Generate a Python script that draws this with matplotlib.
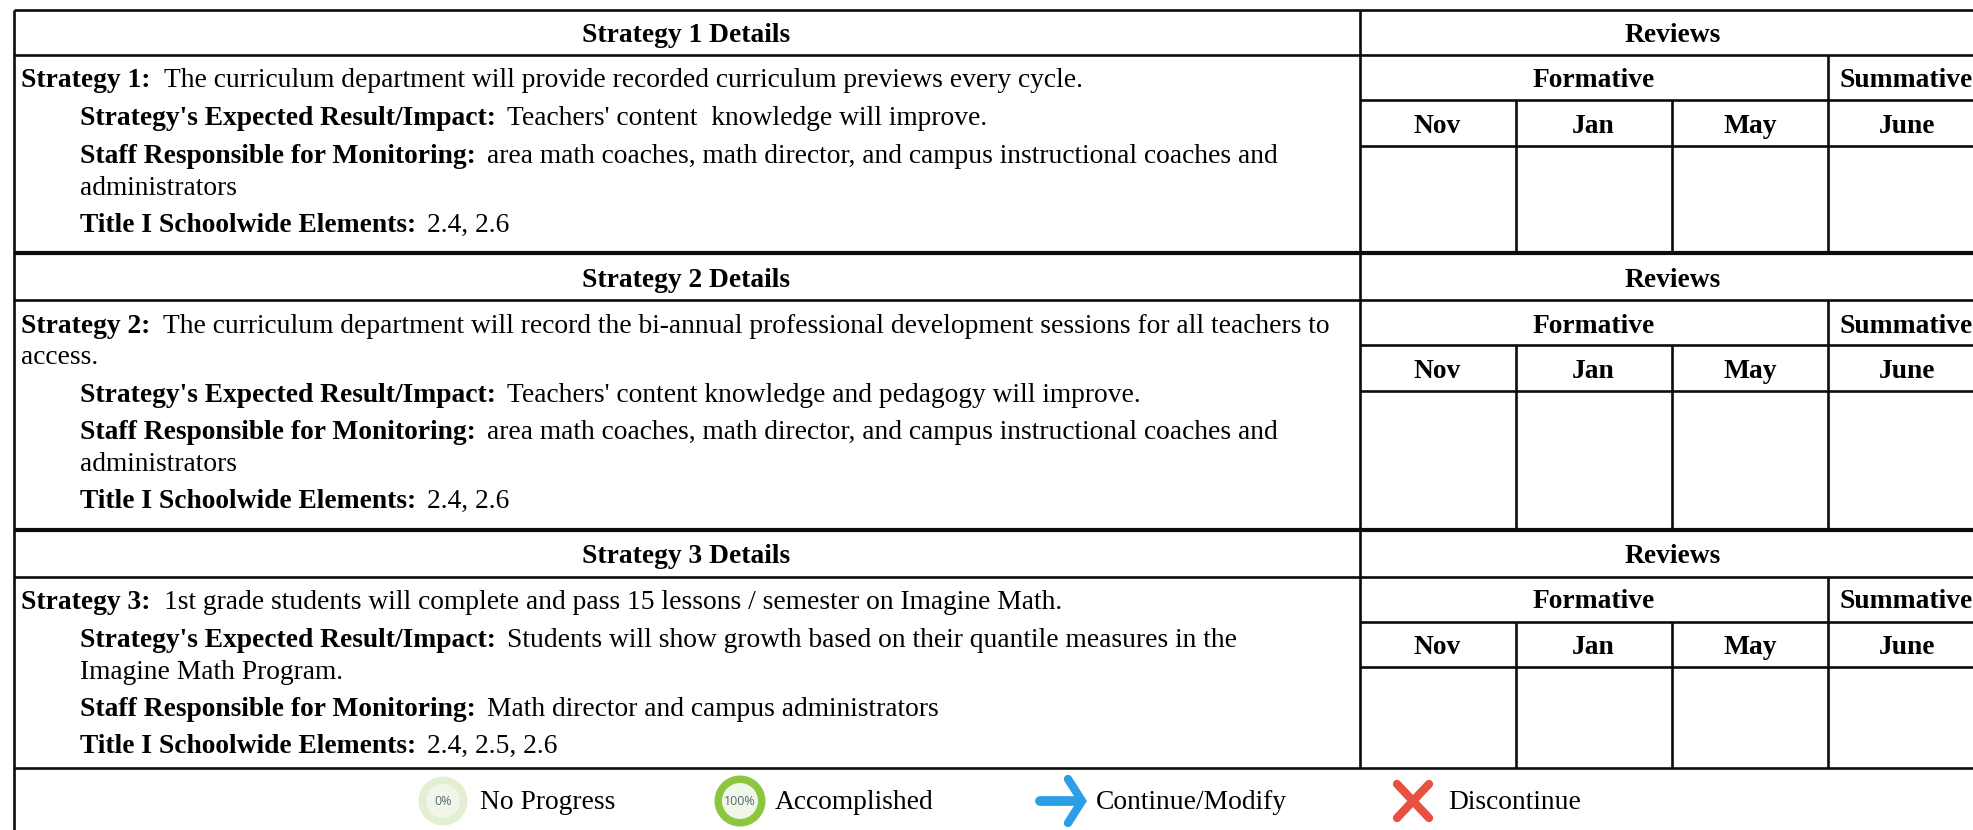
import matplotlib
matplotlib.use("Agg")
import matplotlib.pyplot as plt
from matplotlib.patches import Circle

plt.rcParams['font.family'] = ['Liberation Serif', 'DejaVu Sans']

# text of the table
detail_titles = ["Strategy 1 Details", "Strategy 2 Details", "Strategy 3 Details"]
reviews_title = "Reviews"
formative_title = "Formative"
summative_title = "Summative"
months = ["Nov", "Jan", "May", "June"]

strategy_1_lines = [
    ("Strategy 1:", "The curriculum department will provide recorded curriculum previews every cycle."),
    ("Strategy's Expected Result/Impact:", "Teachers' content  knowledge will improve."),
    ("Staff Responsible for Monitoring:", "area math coaches, math director, and campus instructional coaches and"),
    ("", "administrators"),
    ("Title I Schoolwide Elements:", "2.4, 2.6"),
]
strategy_2_lines = [
    ("Strategy 2:", "The curriculum department will record the bi-annual professional development sessions for all teachers to"),
    ("", "access."),
    ("Strategy's Expected Result/Impact:", "Teachers' content knowledge and pedagogy will improve."),
    ("Staff Responsible for Monitoring:", "area math coaches, math director, and campus instructional coaches and"),
    ("", "administrators"),
    ("Title I Schoolwide Elements:", "2.4, 2.6"),
]
strategy_3_lines = [
    ("Strategy 3:", "1st grade students will complete and pass 15 lessons / semester on Imagine Math."),
    ("Strategy's Expected Result/Impact:", "Students will show growth based on their quantile measures in the"),
    ("", "Imagine Math Program."),
    ("Staff Responsible for Monitoring:", "Math director and campus administrators"),
    ("Title I Schoolwide Elements:", "2.4, 2.5, 2.6"),
]
legend_labels = ["No Progress", "Accomplished", "Continue/Modify", "Discontinue"]
legend_percents = ["0%", "100%"]

# layout, in pixels of the picture
W, H = 1974, 830
LEFT, SPLIT, RIGHT = 14, 1360, W
COL_NOV_JAN, COL_JAN_MAY, COL_MAY_JUNE = 1516, 1672, 1828
month_x = [1437, 1593.5, 1750, 1907]
block_tops = [10, 253.5, 530]
block_rows = [(55, 100, 146, 253.5), (300, 345, 391, 530), (577, 622, 667, 768)]
head_base = [(42, 87, 133), (287, 333, 378), (563, 608, 654)]
line_base = [
    [87, 125, 163, 195, 232],
    [333, 364, 402, 439, 471, 508],
    [609, 647, 679, 716, 753],
]
line_x = [
    [21, 80, 80, 80, 80],
    [21, 21, 80, 80, 80, 80],
    [21, 80, 80, 80, 80],
]
BODY = 19.85
LW = 1.9
LW_THICK = 3.0
INK = "#0c0c0c"

fig = plt.figure(figsize=(W / 100, H / 100), dpi=100)
ax = fig.add_axes([0, 0, 1, 1])
ax.set_xlim(0, W)
ax.set_ylim(H, 0)
ax.axis('off')


def hline(y, x0=LEFT, x1=RIGHT, lw=LW):
    ax.plot([x0, x1], [y, y], color=INK, lw=lw, solid_capstyle='butt')


def vline(x, y0, y1, lw=LW):
    ax.plot([x, x], [y0, y1], color=INK, lw=lw, solid_capstyle='butt')


def rich_line(x, y, bold, normal):
    if bold:
        t = ax.text(x, y, bold, fontsize=BODY, fontweight='bold', va='baseline', color='black')
        box = t.get_window_extent(fig.canvas.get_renderer())
        # the first line of a strategy has a wider gap after its label
        x = box.x1 + (13 if x < 80 else 11)
    ax.text(x, y, normal, fontsize=BODY, va='baseline', color='black')


def head(x, y, s):
    ax.text(x, y, s, fontsize=BODY, fontweight='bold', ha='center', va='baseline', color='black')


# grid
vline(LEFT, block_tops[0], H)
hline(block_tops[0], lw=LW)
for i, top in enumerate(block_tops):
    r1, r2, r3, bottom = block_rows[i]
    hline(r1)
    hline(r2, SPLIT)
    hline(r3, SPLIT)
    hline(bottom, lw=LW_THICK if i < 2 else LW)
    vline(SPLIT, top, bottom)
    vline(COL_MAY_JUNE, r1, bottom)
    vline(COL_NOV_JAN, r2, bottom)
    vline(COL_JAN_MAY, r2, bottom)

# text of each block
all_lines = [strategy_1_lines, strategy_2_lines, strategy_3_lines]
for i, lines in enumerate(all_lines):
    b0, b1, b2 = head_base[i]
    head(686, b0, detail_titles[i])
    head(1673, b0, reviews_title)
    head(1593.5, b1, formative_title)
    head(1906.5, b1, summative_title)
    for mx, m in zip(month_x, months):
        head(mx, b2, m)
    for (bold, normal), x, y in zip(lines, line_x[i], line_base[i]):
        rich_line(x, y, bold, normal)

# legend
ICON_Y = 801
ax.add_patch(Circle((443, ICON_Y), 24.5, color="#e3efd3", lw=0))
ax.add_patch(Circle((443, ICON_Y), 17, color="#f0f6e8", lw=0))
ax.text(443, ICON_Y, legend_percents[0], fontsize=9, family='Open Sans', color="#56697c", ha='center', va='center')
ax.add_patch(Circle((740, ICON_Y), 25.5, color="#8cc63f", lw=0))
ax.add_patch(Circle((740, ICON_Y), 18, color="#f0f6e8", lw=0))
ax.text(740, ICON_Y, legend_percents[1], fontsize=9, family='Open Sans', color="#56697c", ha='center', va='center')

# arrow
ARROW = "#2a9fe6"
ax.plot([1040, 1080], [ICON_Y, ICON_Y], color=ARROW, lw=7, solid_capstyle='round')
ax.plot([1068, 1082, 1068], [ICON_Y - 22, ICON_Y, ICON_Y + 22], color=ARROW, lw=6,
        solid_capstyle='round', solid_joinstyle='miter')
# cross
CROSS = "#e8503f"
ax.plot([1397, 1429], [ICON_Y - 17, ICON_Y + 17], color=CROSS, lw=6, solid_capstyle='round')
ax.plot([1397, 1429], [ICON_Y + 17, ICON_Y - 17], color=CROSS, lw=6, solid_capstyle='round')

legend_x = [480, 775, 1096, 1448]
for x, label in zip(legend_x, legend_labels):
    ax.text(x, 809, label, fontsize=BODY, va='baseline', color='black')

fig.savefig("out.png", dpi=100)
